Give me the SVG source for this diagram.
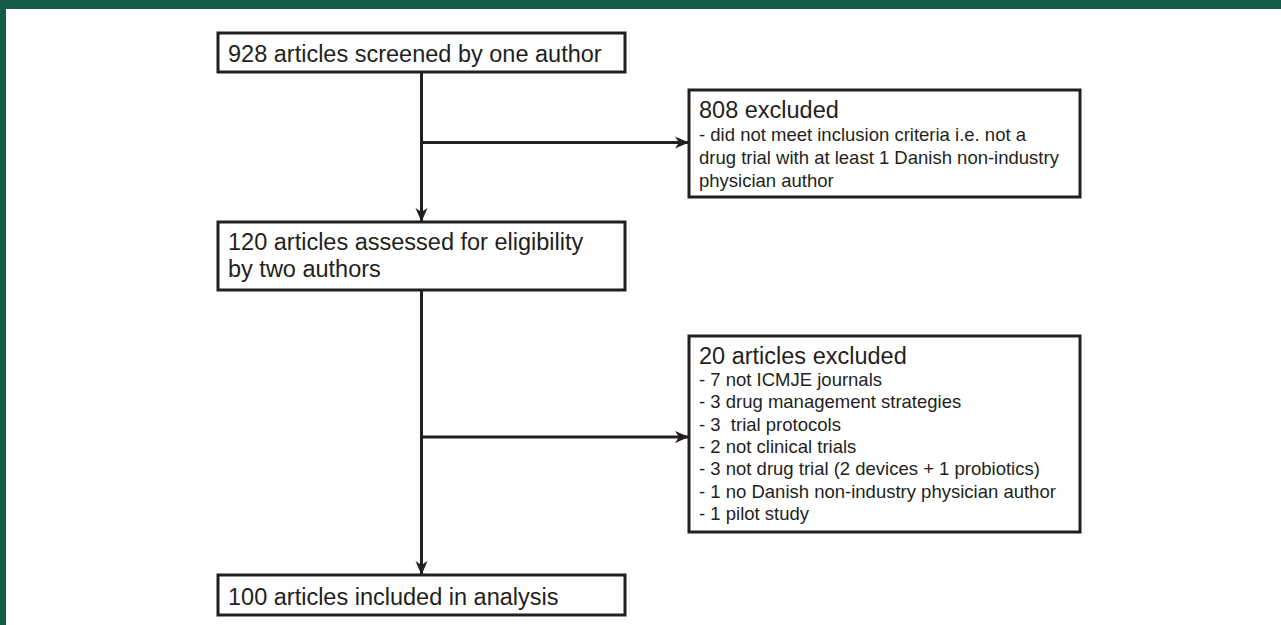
<svg xmlns="http://www.w3.org/2000/svg" width="1281" height="625" viewBox="0 0 1281 625">
<style>
.box{fill:#fff;stroke:#231f20;stroke-width:3}
.t{font-family:"Liberation Sans",Arial,sans-serif;fill:#231f20}
.h{font-size:23.5px}
.b{font-size:18.5px}
.ln{stroke:#231f20;stroke-width:3;fill:none}
</style>
<defs>
<marker id="ah" markerWidth="14" markerHeight="14" viewBox="0 0 14 14" refX="13" refY="7" orient="auto" markerUnits="userSpaceOnUse">
<path d="M0,1 L14,7 L0,13 L4,7 z" fill="#231f20"/>
</marker>
</defs>
<rect x="0" y="0" width="1281" height="625" fill="#fff"/>
<rect x="0" y="0" width="1281" height="9" fill="#125c48"/>
<rect x="0" y="0" width="6" height="625" fill="#125c48"/>
<g id="connectors">
<line class="ln" x1="421.5" y1="72" x2="421.5" y2="221" marker-end="url(#ah)"/>
<line class="ln" x1="421.5" y1="142.5" x2="688" y2="142.5" marker-end="url(#ah)"/>
<line class="ln" x1="421.5" y1="290" x2="421.5" y2="574" marker-end="url(#ah)"/>
<line class="ln" x1="421.5" y1="437" x2="688" y2="437" marker-end="url(#ah)"/>
</g>
<g id="n1">
<rect class="box" x="218" y="33" width="407" height="39"/>
<text class="t h" x="228" y="62">928 articles screened by one author</text>
</g>
<g id="n2">
<rect class="box" x="689" y="90" width="391" height="107"/>
<text class="t h" x="699" y="118">808 excluded</text>
<text class="t b" x="699" y="141">- did not meet inclusion criteria i.e. not a</text>
<text class="t b" x="699" y="164">drug trial with at least 1 Danish non-industry</text>
<text class="t b" x="699" y="187">physician author</text>
</g>
<g id="n3">
<rect class="box" x="218" y="222" width="407" height="68"/>
<text class="t h" x="228" y="250">120 articles assessed for eligibility</text>
<text class="t h" x="228" y="277">by two authors</text>
</g>
<g id="n4">
<rect class="box" x="689" y="336" width="391" height="196"/>
<text class="t h" x="699" y="364">20 articles excluded</text>
<text class="t b" x="699" y="386">- 7 not ICMJE journals</text>
<text class="t b" x="699" y="408.3">- 3 drug management strategies</text>
<text class="t b" x="699" y="430.6" xml:space="preserve">- 3  trial protocols</text>
<text class="t b" x="699" y="452.9">- 2 not clinical trials</text>
<text class="t b" x="699" y="475.2">- 3 not drug trial (2 devices + 1 probiotics)</text>
<text class="t b" x="699" y="497.5">- 1 no Danish non-industry physician author</text>
<text class="t b" x="699" y="519.8">- 1 pilot study</text>
</g>
<g id="n5">
<rect class="box" x="218" y="575" width="407" height="40"/>
<text class="t h" x="228" y="605">100 articles included in analysis</text>
</g>
</svg>
